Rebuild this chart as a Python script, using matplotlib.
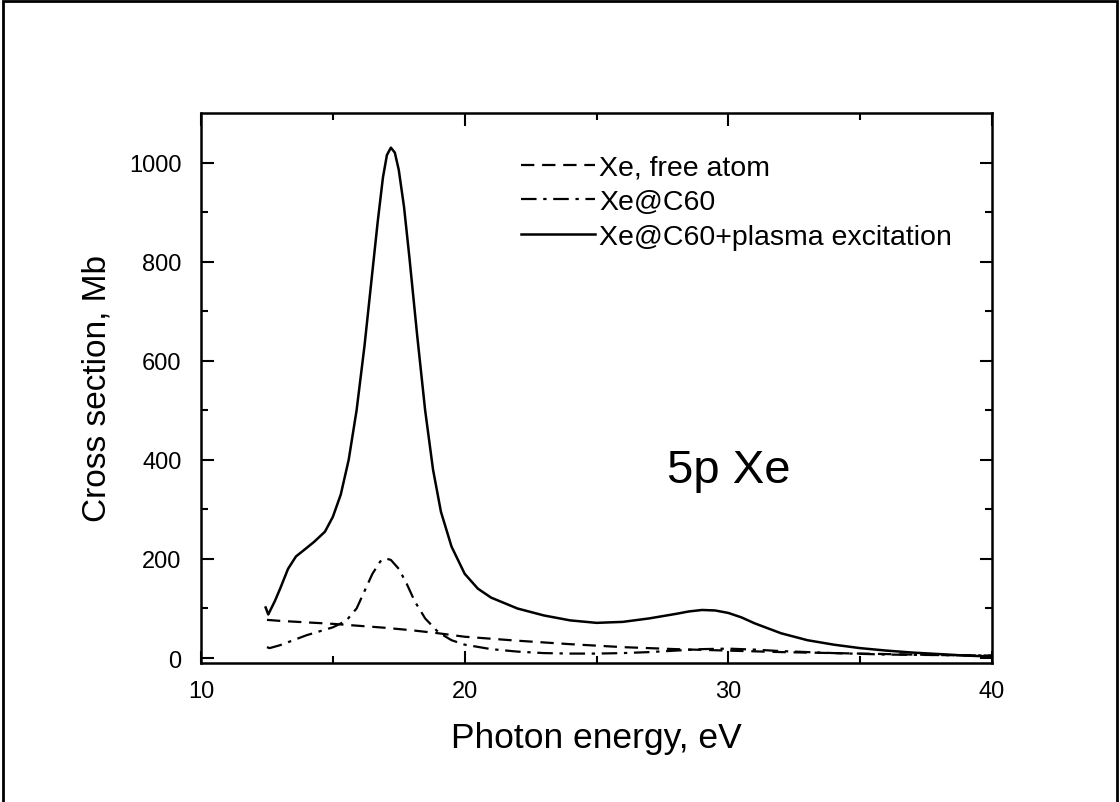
import matplotlib.pyplot as plt
from matplotlib.patches import Rectangle

plt.rcParams['font.family'] = ['Liberation Sans', 'DejaVu Sans']

# Xe, free atom
e_free = [12.5, 13.0, 14.0, 15.0, 16.0, 17.0, 18.0, 19.0, 20.0, 22.0, 24.0, 26.0,
          28.0, 30.0, 32.0, 34.0, 36.0, 38.0, 40.0]
s_free = [77, 75, 72, 69, 65, 61, 56, 50, 43, 35, 28, 22, 18, 15, 12, 10, 8, 6, 5]

# Xe@C60
e_c60 = [12.5, 12.6, 13.0, 13.5, 14.0, 14.5, 15.0, 15.5, 15.9, 16.2, 16.5, 16.8, 17.0,
         17.2, 17.5, 17.8, 18.1, 18.5, 19.0, 19.5, 20.0, 21.0, 22.0, 23.0, 24.0,
         25.0, 26.0, 27.0, 28.0, 29.0, 30.0, 31.0, 32.0, 34.0, 36.0, 38.0, 40.0]
s_c60 = [22, 20, 26, 36, 46, 54, 62, 75, 100, 135, 170, 195, 201, 198, 180, 150, 115,
         80, 52, 36, 27, 18, 13, 10, 9, 9, 10, 12, 15, 18, 19, 17, 14, 10, 7, 6, 5]

# Xe@C60+plasma excitation
e_pl = [12.45, 12.55, 12.8, 13.0, 13.3, 13.6, 14.0, 14.3, 14.7, 15.0, 15.3, 15.6,
        15.9, 16.2, 16.5, 16.7, 16.9, 17.05, 17.2, 17.35, 17.5, 17.7, 17.9, 18.2,
        18.5, 18.8, 19.1, 19.5, 20.0, 20.5, 21.0, 22.0, 23.0, 24.0, 25.0, 26.0,
        27.0, 28.0, 28.5, 29.0, 29.5, 30.0, 30.5, 31.0, 32.0, 33.0, 34.0, 35.0,
        36.0, 37.0, 38.0, 39.0, 40.0]
s_pl = [102, 88, 115, 140, 180, 205, 222, 235, 255, 285, 330, 400, 500, 630, 780,
        880, 970, 1015, 1030, 1020, 985, 910, 810, 650, 500, 380, 295, 225, 170,
        140, 122, 100, 86, 76, 71, 73, 80, 89, 94, 97, 96, 91, 82, 70, 50, 36, 27,
        20, 15, 11, 8, 5, 3]

fig = plt.figure(figsize=(11.2, 8.03), dpi=100)
fig.patches.append(Rectangle((0.003, -0.01), 0.994, 1.007, transform=fig.transFigure,
                             fill=False, edgecolor='black', linewidth=2))
ax = fig.add_axes([0.1795, 0.1731, 0.7062, 0.685])

ax.plot(e_free, s_free, color='black', lw=1.6, ls=(0, (6, 3.5)), label='Xe, free atom')
ax.plot(e_c60, s_c60, color='black', lw=1.6, ls=(0, (7, 3, 1.5, 3)), label='Xe@C60')
ax.plot(e_pl, s_pl, color='black', lw=1.8, ls='-', label='Xe@C60+plasma excitation')

ax.set_xlim(10, 40)
ax.set_ylim(-10, 1100)
ax.set_xticks([10, 20, 30, 40])
ax.set_xticks([15, 25, 35], minor=True)
ax.set_yticks([0, 200, 400, 600, 800, 1000])
ax.set_yticks([100, 300, 500, 700, 900], minor=True)
ax.tick_params(which='both', direction='in', top=True, right=True, width=1.5,
               labelsize=17)
ax.tick_params(axis='y', pad=14)
ax.tick_params(axis='x', pad=12)
ax.tick_params(which='major', length=9)
ax.tick_params(which='minor', length=5)
for sp in ax.spines.values():
    sp.set_linewidth(1.8)

ax.set_xlabel('Photon energy, eV', fontsize=25.5, labelpad=14)
ax.set_ylabel('Cross section, Mb', fontsize=24, labelpad=12)

ax.text(30.0, 380, '5p Xe', fontsize=34, ha='center', va='center')

ax.legend(loc='upper left', bbox_to_anchor=(0.39, 0.945), frameon=False, fontsize=20.5,
          handlelength=2.6, handletextpad=0.15, labelspacing=0.3, borderaxespad=0)

fig.savefig('out.png', dpi=100)
